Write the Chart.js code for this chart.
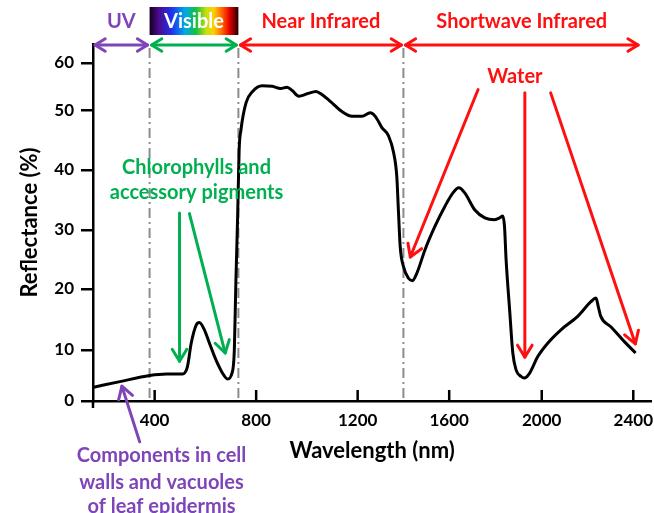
<!DOCTYPE html>
<html>
<head>
<meta charset="utf-8">
<script src="https://cdn.jsdelivr.net/npm/chart.js@4.4.1/dist/chart.umd.min.js"></script>
<style>
  html, body { margin: 0; padding: 0; background: #fff; }
</style>
</head>
<body>
<canvas id="spectrum" width="654" height="513"></canvas>
<script>
// leaf reflectance spectrum
const wavelengths = [160, 263, 380, 447, 510, 529, 544, 564, 576, 596, 616, 642, 667, 687, 705, 714, 720, 727, 733, 740,
  760, 786, 824, 863, 896, 922, 942, 968, 1001, 1036, 1060, 1099, 1138, 1178, 1219, 1255, 1277, 1306, 1335, 1357,
  1371, 1378, 1386, 1400, 1422, 1439, 1458, 1494, 1538, 1581, 1617, 1642, 1668, 1711, 1754, 1797, 1818, 1832, 1839,
  1846, 1861, 1875, 1889, 1911, 1925, 1947, 1983, 2026, 2084, 2157, 2215, 2237, 2247, 2258, 2302, 2360, 2410];
const reflectance = [2.7, 3.8, 5.0, 5.3, 5.3, 6.7, 11.1, 14.1, 14.5, 13.3, 11.1, 8.0, 5.5, 4.3, 5.5, 10, 21, 32.2, 43.4, 46.7,
  51.6, 54.0, 55.2, 55.1, 54.6, 54.9, 54.2, 53.0, 53.5, 54.0, 53.3, 51.6, 49.8, 49.0, 49.0, 49.6, 49.0, 47.1, 45.7, 42.9,
  38.9, 33.3, 27.1, 23.8, 21.8, 21.4, 22.6, 26.6, 30.6, 33.9, 36.2, 37.0, 36.1, 33.3, 32.0, 31.7, 32.0, 32.3, 30.6,
  24.9, 16.7, 9.4, 6.1, 4.8, 4.5, 5.4, 8.7, 11.1, 13.3, 15.5, 17.9, 18.5, 17.1, 15.5, 13.8, 11.4, 9.4];

const xTicks = [400, 800, 1200, 1600, 2000, 2400];
const yTicks = [0, 10, 20, 30, 40, 50, 60];

// spectral regions: edges in nm and names
const bandEdges = [157, 380, 730, 1400, 2430];
const bandNames = ["UV", "Visible", "Near Infrared", "Shortwave Infrared"];

// annotation arrows [fromX, fromY, toX, toY] in nm / %
const pigmentArrows = [[498, 32.8, 498, 7.8], [537, 32.7, 678, 9.4]];
const waterArrows = [[1725, 54.4, 1430, 25.4], [1927, 53.7, 1927, 8.6], [2039, 53.7, 2409, 11.0]];
const epidermisArrow = [341, -8.0, 271, 2.9];

const pigmentLabel = { x: 565, y: [40.3, 36.2], lines: ["Chlorophylls and", "accessory pigments"] };
const waterLabel = { x: 1884, y: [57.1], lines: ["Water"] };
const epidermisLabel = { x: 427, y: [-10.6, -15.9, -20.6], lines: ["Components in cell", "walls and vacuoles", "of leaf epidermis"] };

// the printed axes are not evenly spaced, so every tick has its own place along the axis
const axisWarp = {
  x: { values: xTicks, places: [155, 257, 359, 451, 544, 636] },
  y: { values: yTicks, places: [0, 51, 112, 171, 231, 290.3, 337.7] }
};

function warp(v, w) {
  const vs = w.values, ps = w.places;
  let i = 0;
  while (i < vs.length - 2 && v > vs[i + 1]) i++;
  return ps[i] + (v - vs[i]) * (ps[i + 1] - ps[i]) / (vs[i + 1] - vs[i]);
}

function unwarp(p, w) {
  const vs = w.values, ps = w.places;
  let i = 0;
  while (i < ps.length - 2 && p > ps[i + 1]) i++;
  return vs[i] + (p - ps[i]) * (vs[i + 1] - vs[i]) / (ps[i + 1] - ps[i]);
}

class WarpedScale extends Chart.LinearScale {
  configure() {
    super.configure();
    const w = axisWarp[this.axis];
    this._startValue = warp(this.min, w);
    this._valueRange = warp(this.max, w) - this._startValue;
  }
  getPixelForValue(value) {
    if (value === null) return NaN;
    return this.getPixelForDecimal((warp(value, axisWarp[this.axis]) - this._startValue) / this._valueRange);
  }
  getValueForPixel(pixel) {
    return unwarp(this._startValue + this.getDecimalForPixel(pixel) * this._valueRange, axisWarp[this.axis]);
  }
}
WarpedScale.id = "warped";
WarpedScale.defaults = Chart.LinearScale.defaults;
Chart.register(WarpedScale);

const FONT = "Lato";
const RED = "#ff1010";
const GREEN = "#00b050";
const PURPLE = "#7f45b8";

function arrowHead(ctx, x1, y1, x2, y2, len) {
  const a = Math.atan2(y2 - y1, x2 - x1);
  ctx.beginPath();
  ctx.moveTo(x2 - len * Math.cos(a - 0.55), y2 - len * Math.sin(a - 0.55));
  ctx.lineTo(x2, y2);
  ctx.lineTo(x2 - len * Math.cos(a + 0.55), y2 - len * Math.sin(a + 0.55));
  ctx.stroke();
}

function arrow(ctx, x1, y1, x2, y2, color, both) {
  ctx.save();
  ctx.strokeStyle = color;
  ctx.lineWidth = 3;
  ctx.lineCap = "round";
  ctx.lineJoin = "round";
  ctx.beginPath();
  ctx.moveTo(x1, y1);
  ctx.lineTo(x2, y2);
  ctx.stroke();
  const len = both ? 12 : 14;
  arrowHead(ctx, x1, y1, x2, y2, len);
  if (both) arrowHead(ctx, x2, y2, x1, y1, len);
  ctx.restore();
}

function label(ctx, x, y, text, color, size) {
  ctx.save();
  ctx.fillStyle = color;
  ctx.font = `bold ${size}px ${FONT}`;
  ctx.textAlign = "center";
  ctx.textBaseline = "middle";
  ctx.fillText(text, x, y);
  ctx.restore();
}

const annotations = {
  id: "annotations",
  beforeDatasetsDraw(chart) {
    const { ctx, chartArea, scales } = chart;
    ctx.save();
    ctx.strokeStyle = "#8c8c8c";
    ctx.lineWidth = 2;
    ctx.setLineDash([10, 4, 2, 4]);
    bandEdges.slice(1, 4).forEach(v => {
      const px = scales.x.getPixelForValue(v);
      ctx.beginPath();
      ctx.moveTo(px, chartArea.top + 4);
      ctx.lineTo(px, chartArea.bottom);
      ctx.stroke();
    });
    ctx.restore();
  },
  afterDraw(chart) {
    const { ctx, chartArea, scales } = chart;
    const X = v => scales.x.getPixelForValue(v);
    const Y = v => scales.y.getPixelForValue(v);

    // inward x ticks and the little stub under the origin
    ctx.save();
    ctx.strokeStyle = "#000";
    ctx.lineWidth = 2.5;
    scales.x.ticks.forEach(t => {
      const px = X(t.value);
      ctx.beginPath();
      ctx.moveTo(px, chartArea.bottom);
      ctx.lineTo(px, chartArea.bottom - 11);
      ctx.stroke();
    });
    ctx.beginPath();
    ctx.moveTo(chartArea.left, chartArea.bottom);
    ctx.lineTo(chartArea.left, chartArea.bottom + 7);
    ctx.stroke();
    ctx.restore();

    // region bar above the plot
    const arrowY = chartArea.top + 1;
    const textY = chartArea.top - 22;
    const bandColors = [PURPLE, GREEN, RED, RED];
    bandNames.forEach((name, i) => {
      const x1 = X(bandEdges[i]), x2 = X(bandEdges[i + 1]);
      arrow(ctx, x1 + 2, arrowY, x2 - 2, arrowY, bandColors[i], true);
      if (name === "Visible") {
        const g = ctx.createLinearGradient(x1, 0, x2, 0);
        g.addColorStop(0, "#12001c");
        g.addColorStop(0.1, "#4a0a8a");
        g.addColorStop(0.25, "#2030f0");
        g.addColorStop(0.4, "#00a8e8");
        g.addColorStop(0.52, "#10c040");
        g.addColorStop(0.64, "#c8e010");
        g.addColorStop(0.72, "#ffd000");
        g.addColorStop(0.82, "#ff6000");
        g.addColorStop(0.9, "#e80000");
        g.addColorStop(1, "#200000");
        ctx.fillStyle = g;
        ctx.fillRect(x1, chartArea.top - 37, x2 - x1, 28);
        label(ctx, (x1 + x2) / 2, textY, name, "#fff", 20);
      } else {
        label(ctx, (x1 + x2) / 2, textY, name, bandColors[i], 20);
      }
    });

    pigmentArrows.forEach(a => arrow(ctx, X(a[0]), Y(a[1]), X(a[2]), Y(a[3]), GREEN));
    waterArrows.forEach(a => arrow(ctx, X(a[0]), Y(a[1]), X(a[2]), Y(a[3]), RED));
    arrow(ctx, X(epidermisArrow[0]), Y(epidermisArrow[1]), X(epidermisArrow[2]), Y(epidermisArrow[3]), PURPLE);

    pigmentLabel.lines.forEach((t, i) => label(ctx, X(pigmentLabel.x), Y(pigmentLabel.y[i]), t, GREEN, 20));
    waterLabel.lines.forEach((t, i) => label(ctx, X(waterLabel.x), Y(waterLabel.y[i]), t, RED, 20));
    epidermisLabel.lines.forEach((t, i) => label(ctx, X(epidermisLabel.x), Y(epidermisLabel.y[i]), t, PURPLE, 20));
  }
};

const tickFont = { family: FONT, size: 17, weight: "bold" };
const titleFont = { family: FONT, size: 22, weight: "bold" };

new Chart(document.getElementById("spectrum"), {
  type: "line",
  data: {
    datasets: [{
      data: wavelengths.map((w, i) => ({ x: w, y: reflectance[i] })),
      borderColor: "#000",
      borderWidth: 3,
      pointRadius: 0,
      fill: false,
      cubicInterpolationMode: "monotone"
    }]
  },
  options: {
    responsive: false,
    animation: false,
    layout: { padding: { top: 44, left: 0, right: 0, bottom: 0 } },
    plugins: { legend: { display: false }, tooltip: { enabled: false } },
    scales: {
      x: {
        type: "warped",
        min: 157,
        max: 2478,
        afterFit: s => { s.height = 112; },
        afterBuildTicks: s => { s.ticks = xTicks.map(v => ({ value: v })); },
        border: { color: "#000", width: 2.5 },
        grid: { display: false },
        ticks: { autoSkip: false, maxRotation: 0, padding: 1, color: "#000", font: tickFont, callback: v => String(v) },
        title: { display: true, text: "Wavelength (nm)", color: "#000", font: titleFont, padding: { top: 0, bottom: 49 } }
      },
      y: {
        type: "warped",
        min: 0,
        max: 64,
        afterFit: s => { s.width = 93; },
        afterBuildTicks: s => { s.ticks = yTicks.map(v => ({ value: v })); },
        border: { color: "#000", width: 2.5 },
        grid: { drawOnChartArea: false, drawTicks: true, tickLength: 12, color: "#000", lineWidth: 2.5 },
        ticks: { padding: 7, color: "#000", font: tickFont, callback: v => String(v) },
        title: { display: true, text: "Reflectance (%)", color: "#000", font: titleFont, padding: { top: 17, bottom: 0 } }
      }
    }
  },
  plugins: [annotations]
});
</script>
</body>
</html>
